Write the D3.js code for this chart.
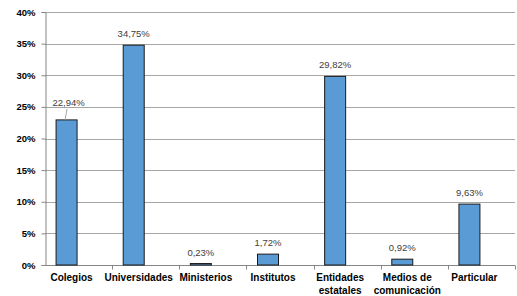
<!DOCTYPE html>
<html>
<head>
<meta charset="utf-8">
<script src="https://cdn.jsdelivr.net/npm/d3@7"></script>
<style>
  body { margin: 0; background: #fff; }
  svg { display: block; }
</style>
</head>
<body>
<div id="chart"></div>
<script>
// categories (second line after "|")
var categories = ["Colegios", "Universidades", "Ministerios", "Institutos", "Entidades|estatales", "Medios de|comunicación", "Particular"];
var values = [22.94, 34.75, 0.23, 1.72, 29.82, 0.92, 9.63];
var valueLabels = ["22,94%", "34,75%", "0,23%", "1,72%", "29,82%", "0,92%", "9,63%"];
var yTicks = [0, 5, 10, 15, 20, 25, 30, 35, 40];

var width = 517, height = 296;
var margin = { top: 12, right: 2, bottom: 31, left: 45 };

var svg = d3.select("#chart").append("svg")
    .attr("width", width)
    .attr("height", height);

var x = d3.scaleBand()
    .domain(categories)
    .range([margin.left, width - margin.right]);

var y = d3.scaleLinear()
    .domain([0, 40])
    .range([height - margin.bottom, margin.top]);

var barW = 21;
var barShift = -12; // bars sit a bit left of the band centre in the original
var font = "'Liberation Sans', Arial, sans-serif";

// gridlines
svg.append("g").selectAll("line")
    .data(yTicks.slice(1))
    .enter().append("line")
    .attr("x1", margin.left)
    .attr("x2", width - margin.right)
    .attr("y1", d => Math.round(y(d)) + 0.5)
    .attr("y2", d => Math.round(y(d)) + 0.5)
    .attr("stroke", "#a6a6a6")
    .attr("stroke-width", 1);

// y axis
var yAxis = svg.append("g")
    .attr("transform", "translate(" + (margin.left + 0.5) + ",0)")
    .call(d3.axisLeft(y).tickValues(yTicks).tickSize(4).tickFormat(d => d + "%"));
yAxis.select(".domain").attr("stroke", "#868686");
yAxis.selectAll(".tick line").attr("stroke", "#868686");
yAxis.selectAll(".tick text")
    .attr("x", -10)
    .style("font-family", font)
    .style("font-size", "9.5px")
    .style("font-weight", "bold")
    .attr("fill", "#000");

// x axis
var y0 = Math.round(y(0)) + 0.5;
svg.append("line")
    .attr("x1", margin.left).attr("x2", width - margin.right)
    .attr("y1", y0).attr("y2", y0)
    .attr("stroke", "#868686");
svg.append("g").selectAll("line")
    .data(categories)
    .enter().append("line")
    .attr("x1", d => Math.round(x(d) + x.bandwidth()) + 0.5)
    .attr("x2", d => Math.round(x(d) + x.bandwidth()) + 0.5)
    .attr("y1", y0).attr("y2", y0 + 4)
    .attr("stroke", "#868686");

// bars
svg.append("g").selectAll("rect")
    .data(values)
    .enter().append("rect")
    .attr("x", (d, i) => x(categories[i]) + x.bandwidth() / 2 + barShift - barW / 2)
    .attr("y", d => y(d))
    .attr("width", barW)
    .attr("height", d => y(0) - y(d))
    .attr("fill", "#5b9bd5")
    .attr("stroke", "#1a1a1a")
    .attr("stroke-width", 1);

// value labels
svg.append("g").selectAll("text")
    .data(values)
    .enter().append("text")
    .attr("x", (d, i) => x(categories[i]) + x.bandwidth() / 2 + barShift + (i == 0 ? 2 : 0))
    .attr("y", (d, i) => y(d) - (i == 0 ? 14 : 8))
    .attr("text-anchor", "middle")
    .style("font-family", font)
    .style("font-size", "9.5px")
    .attr("fill", "#404040")
    .text((d, i) => valueLabels[i]);

// leader line for the first label
svg.append("line")
    .attr("x1", x(categories[0]) + x.bandwidth() / 2 + barShift + 0.5)
    .attr("x2", x(categories[0]) + x.bandwidth() / 2 + barShift - 1.5)
    .attr("y1", y(values[0]) - 11)
    .attr("y2", y(values[0]))
    .attr("stroke", "#a6a6a6");

// category labels
var cat = svg.append("g").selectAll("text")
    .data(categories)
    .enter().append("text")
    .attr("x", d => x(d) + x.bandwidth() / 2 - 7)
    .attr("y", y(0) + 16)
    .attr("text-anchor", "middle")
    .style("font-family", font)
    .style("font-size", "10px")
    .style("font-weight", "bold")
    .attr("fill", "#000");
cat.each(function(d) {
    var parts = d.split("|");
    var t = d3.select(this);
    parts.forEach(function(p, k) {
        t.append("tspan")
            .attr("x", t.attr("x"))
            .attr("dy", k == 0 ? 0 : 13)
            .text(p);
    });
});
</script>
</body>
</html>
